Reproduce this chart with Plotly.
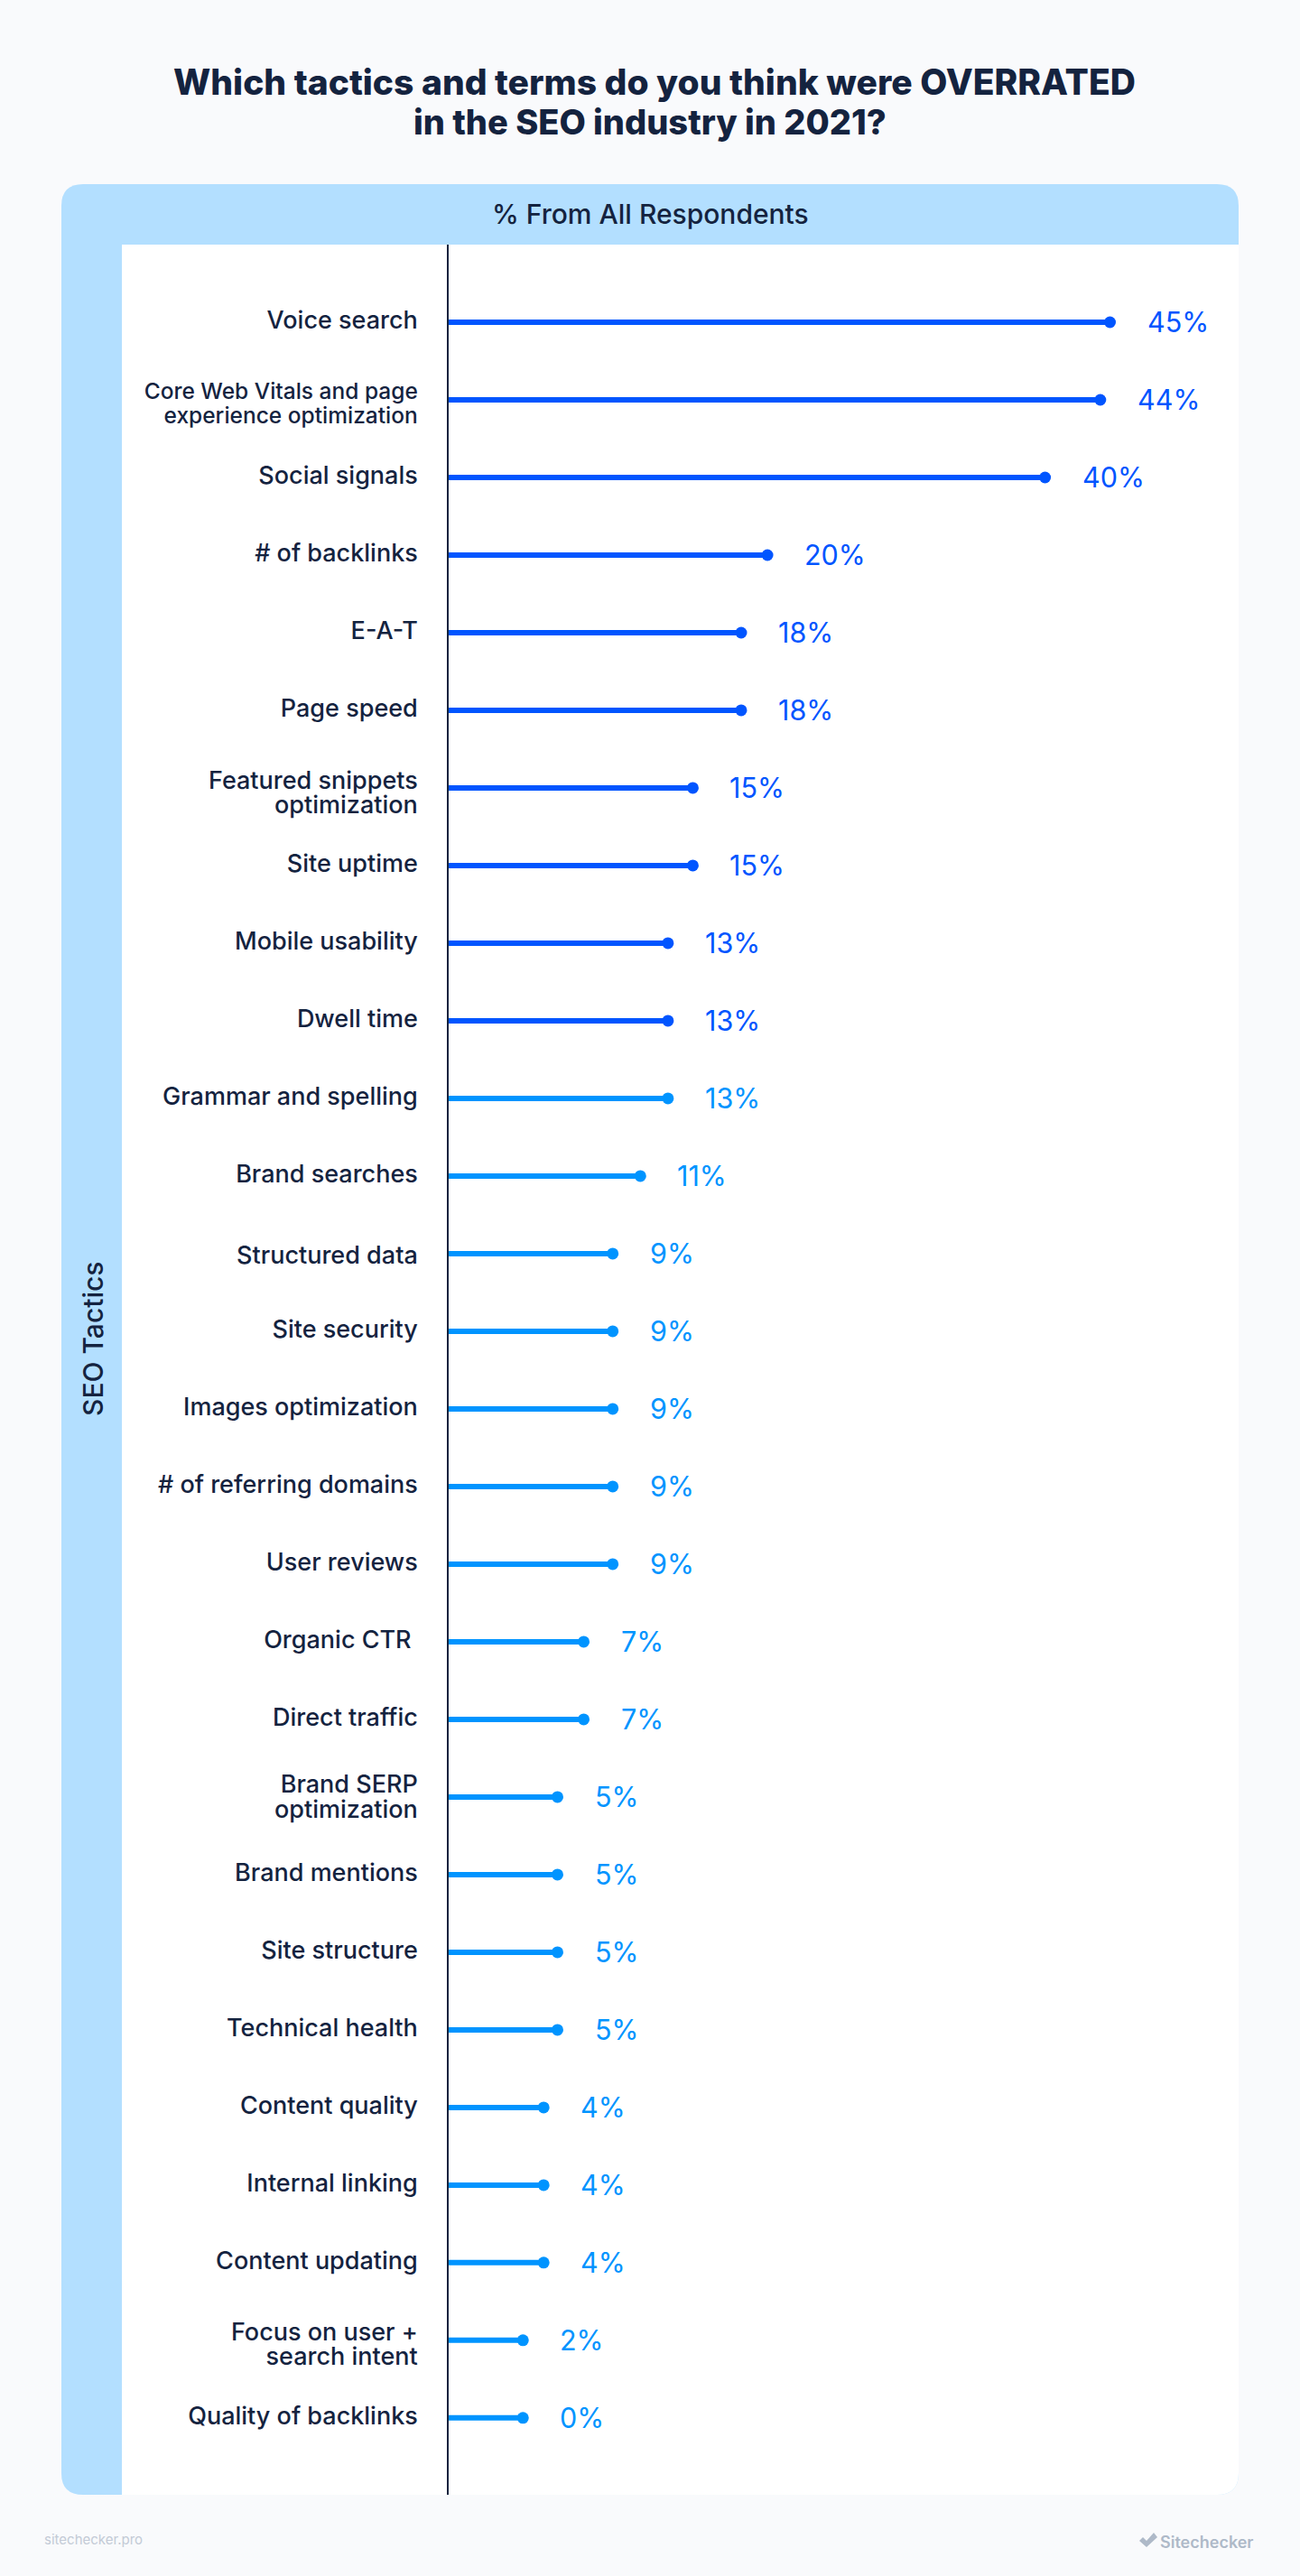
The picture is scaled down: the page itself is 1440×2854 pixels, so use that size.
import plotly.graph_objects as go

categories = ["Voice search", "Core Web Vitals and page<br>experience optimization",
              "Social signals", "# of backlinks",
              "E-A-T", "Page speed", "Featured snippets<br>optimization", "Site uptime", "Mobile usability", "Dwell time",
              "Grammar and spelling", "Brand searches", "Structured data", "Site security", "Images optimization",
              "# of referring domains", "User reviews", "Organic CTR\u00a0", "Direct traffic", "Brand SERP<br>optimization",
              "Brand mentions", "Site structure", "Technical health", "Content quality", "Internal linking",
              "Content updating", "Focus on user +<br>search intent", "Quality of backlinks"]
value_labels = ["45%", "44%", "40%", "20%", "18%", "18%", "15%", "15%", "13%", "13%", "13%", "11%", "9%", "9%", "9%",
                "9%", "9%", "7%", "7%", "5%", "5%", "5%", "5%", "4%", "4%", "4%", "2%", "0%"]
# bar lengths as drawn in the picture (they differ slightly from the printed labels)
drawn_values = [45.0, 44.3, 40.3, 20.2, 18.3, 18.3, 14.8, 14.8, 13.0, 13.0, 13.0, 11.0, 9.0, 9.0, 9.0, 9.0, 9.0,
                6.9, 6.9, 5.0, 5.0, 5.0, 5.0, 4.0, 4.0, 4.0, 2.5, 2.5]
STRONG_COUNT = 10
STRONG, LIGHT = "#0055ff", "#0094ff"
INK = "#14233f"
BG, BAND, WHITE = "#f9fafc", "#b3dfff", "#ffffff"
W, H = 1440, 2854
FONT = "Inter"

# pixel layout of the panel
PX0, PX1, PY0, PY1 = 68, 1372, 204, 2764
AX, TOP = 497, 271
LEFTBAND = 135
SCALE = 15.3
x_min = -44 / SCALE
x_max = x_min + (PX1 - AX) / SCALE
# rows whose label sits a little lower than its bar in the reference
LABEL_NUDGE = {1: 0.06, 6: 0.08, 12: 0.04, 19: 0.02, 26: 0.07}

def fx(p): return p / W
def fy(p): return 1 - p / H

def sized(label):
    # a small base tick font keeps the two-line labels tight; the glyph size is set per line
    px = 24.5 if label.startswith("Core Web") else 27
    return "<br>".join(f"<span style='font-size:{px}px'>{part}</span>" for part in label.split("<br>"))

def rrect(x0, y0, x1, y1, tl=0, tr=0, br=0, bl=0):
    a, b, c, d = fx(x0), fx(x1), fy(y0), fy(y1)
    rx = lambda r: r / W
    ry = lambda r: r / H
    return (f"M {a+rx(tl)} {c} L {b-rx(tr)} {c} Q {b} {c} {b} {c-ry(tr)} L {b} {d+ry(br)} Q {b} {d} {b-rx(br)} {d} "
            f"L {a+rx(bl)} {d} Q {a} {d} {a} {d+ry(bl)} L {a} {c-ry(tl)} Q {a} {c} {a+rx(tl)} {c} Z")

check_pts = [(1262, 2815), (1266, 2811), (1270, 2815), (1278, 2806), (1282, 2811), (1270, 2822)]
check_path = "M " + " L ".join(f"{fx(x)} {fy(y)}" for x, y in check_pts) + " Z"

shapes = [
    dict(type="path", xref="paper", yref="paper", path=rrect(PX0, PY0, PX1, PY1, tl=24, tr=24, br=24, bl=24),
         fillcolor=BAND, line_width=0, layer="below"),
    dict(type="path", xref="paper", yref="paper", path=rrect(LEFTBAND, TOP, PX1, PY1, br=24),
         fillcolor=WHITE, line_width=0, layer="below"),
    dict(type="path", xref="paper", yref="paper", path=check_path, fillcolor="#aeb9c8", line_width=0, layer="below"),
]

def segments(idx):
    xs, ys = [], []
    for i in idx:
        xs += [x_min, drawn_values[i], None]
        ys += [i, i, None]
    return xs, ys

fig = go.Figure()
groups = [(range(0, STRONG_COUNT), STRONG), (range(STRONG_COUNT, len(categories)), LIGHT)]
for idx, color in groups:
    xs, ys = segments(idx)
    fig.add_trace(go.Scatter(x=xs, y=ys, mode="lines", line=dict(color=color, width=6), hoverinfo="skip", showlegend=False))
    fig.add_trace(go.Scatter(x=[drawn_values[i] for i in idx], y=list(idx), mode="markers",
                             marker=dict(color=color, size=13), text=[value_labels[i] for i in idx],
                             hovertemplate="%{text}<extra></extra>", showlegend=False))

annotations = []
for i, t in enumerate(value_labels):
    annotations.append(dict(x=drawn_values[i], y=i, xref="x", yref="y", text=t, showarrow=False, xanchor="left",
                            xshift=39, yshift=0, font=dict(family=FONT, size=30.5, color=STRONG if i < STRONG_COUNT else LIGHT)))

def pa(x, y, text, xanchor="center", **kw):
    annotations.append(dict(x=fx(x), y=fy(y), xref="paper", yref="paper", text=text, showarrow=False,
                            xanchor=xanchor, yanchor="middle", **kw))

pa(720, 135, "in the SEO industry in 2021?", font=dict(family=FONT, size=38, color=INK, weight=800))
pa(720, 237, "% From All Respondents", font=dict(family=FONT, size=30, color=INK, weight=500))
pa(103, 1484, "SEO Tactics", textangle=-90, font=dict(family=FONT, size=30, color=INK, weight=500))
pa(47, 2813, "sitechecker.pro", xanchor="left", font=dict(family=FONT, size=15, color="#c3cad6"))
pa(1391, 2816, "Sitechecker", xanchor="right", font=dict(family=FONT, size=18, color="#aeb9c8", weight=600))

fig.update_layout(
    width=W, height=H, margin=dict(l=0, r=0, t=0, b=0), autosize=False,
    paper_bgcolor=BG, plot_bgcolor="rgba(0,0,0,0)", shapes=shapes, annotations=annotations,
    title=dict(text="Which tactics and terms do you think were OVERRATED",
               x=725 / W, xanchor="center", y=fy(91), yanchor="middle",
               font=dict(family=FONT, size=39, color=INK, weight=800)),
    xaxis=dict(domain=[fx(AX), fx(PX1)], range=[x_min, x_max], visible=False),
    yaxis=dict(domain=[fy(PY1), fy(TOP)], range=[27.99, -1], tickmode="array",
               tickvals=[i + LABEL_NUDGE.get(i, 0) for i in range(len(categories))],
               ticktext=[sized(c) for c in categories], showgrid=False, zeroline=False, showline=True, linecolor=INK, linewidth=2,
               ticks="", ticklabelstandoff=28, tickfont=dict(family=FONT, size=21, color=INK, weight=500)),
)
fig.write_html("out.html", config=dict(displayModeBar=False),
               post_script="document.body.style.margin='0';document.body.style.background='" + BG + "';")
